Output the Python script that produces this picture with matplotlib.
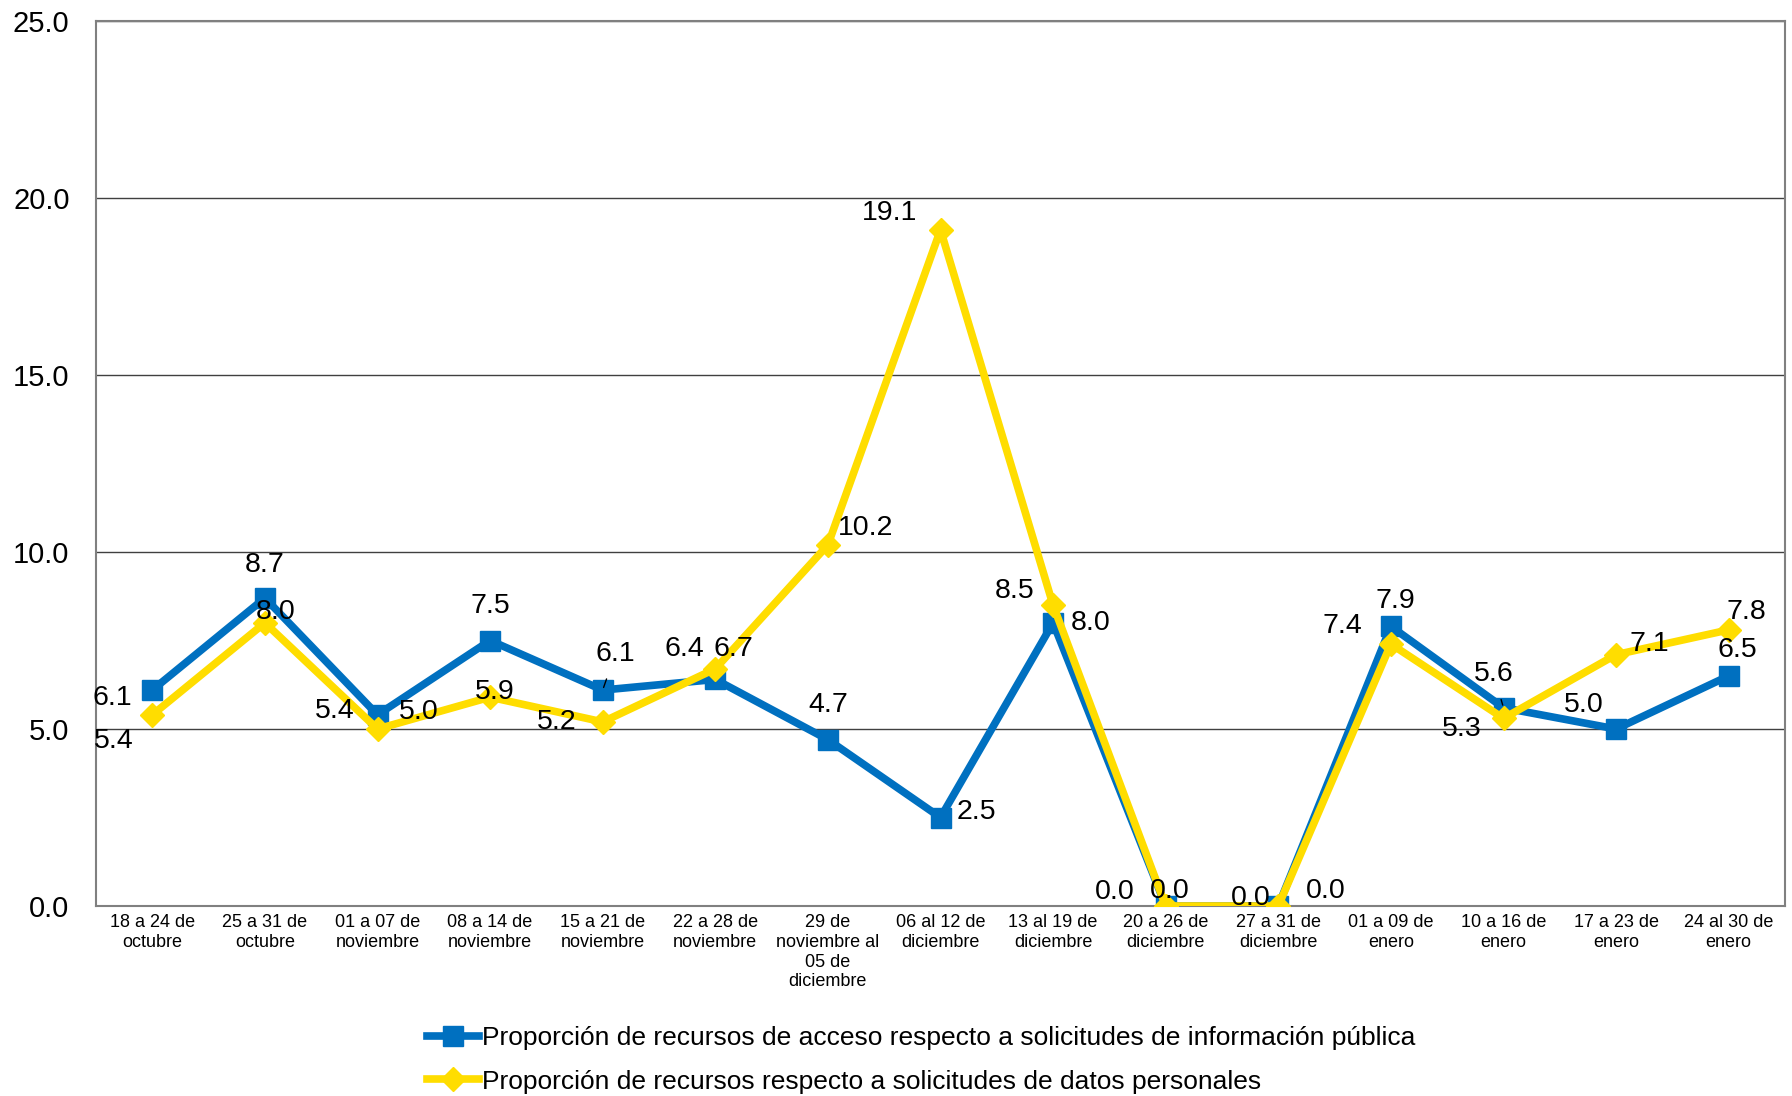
import matplotlib
matplotlib.use("Agg")
import matplotlib.pyplot as plt
import numpy as np

plt.rcParams["font.family"] = ["Liberation Sans", "DejaVu Sans"]

# ---------------------------------------------------------------------------
#  Data
# ---------------------------------------------------------------------------
semanas = [
    "18 a 24 de\noctubre", "25 a 31 de\noctubre", "01 a 07 de\nnoviembre",
    "08 a 14 de\nnoviembre", "15 a 21 de\nnoviembre", "22 a 28 de\nnoviembre",
    "29 de\nnoviembre al\n05 de\ndiciembre", "06 al 12 de\ndiciembre",
    "13 al 19 de\ndiciembre", "20 a 26 de\ndiciembre", "27 a 31 de\ndiciembre",
    "01 a 09 de\nenero", "10 a 16 de\nenero", "17 a 23 de\nenero",
    "24 al 30 de\nenero",
]
acceso = [6.1, 8.7, 5.4, 7.5, 6.1, 6.4, 4.7, 2.5, 8.0, 0.0, 0.0, 7.9, 5.6, 5.0, 6.5]
datos = [5.4, 8.0, 5.0, 5.9, 5.2, 6.7, 10.2, 19.1, 8.5, 0.0, 0.0, 7.4, 5.3, 7.1, 7.8]

label_acceso = "Proporción de recursos de acceso respecto a solicitudes de información pública"
label_datos = "Proporción de recursos respecto a solicitudes de datos personales"

# label offsets (points) for the data labels
off_acceso = [(-29, -6), (0, 24), (-31, 3), (0, 25), (9, 26), (-22, 22), (0, 25),
              (26, 4), (27, 0), (-37, 10), (-20, 6), (3, 18), (-7, 24), (-23, 17), (6, 19)]
off_datos = [(-28, -19), (8, 8), (30, 12), (3, 4), (-33, 0), (13, 14), (27, 12),
             (-37, 12), (-28, 10), (3, 11), (34, 11), (-35, 13), (-30, -8), (24, 8), (13, 13)]
leader_acceso = [4, 12]

BLUE = "#0070C0"
YELLOW = "#FFDD00"

# ---------------------------------------------------------------------------
#  Figure
# ---------------------------------------------------------------------------
fig = plt.figure(figsize=(17.92, 10.96), dpi=100)
ax = fig.add_axes([96 / 1792, 1 - 906 / 1096, (1785 - 96) / 1792, (906 - 21) / 1096])

x = np.arange(len(semanas))
ax.plot(x, acceso, color=BLUE, lw=5.5, marker="s", ms=14, label=label_acceso, zorder=3)
ax.plot(x, datos, color=YELLOW, lw=5.5, marker="D", ms=12, label=label_datos, zorder=4)

for i, v in enumerate(acceso):
    kw = {}
    if i in leader_acceso:
        kw["arrowprops"] = dict(arrowstyle="-", color="black", lw=1, shrinkA=7, shrinkB=2)
    ax.annotate(f"{v:.1f}", (x[i], v), xytext=off_acceso[i], textcoords="offset points",
                ha="center", va="center", fontsize=20.5, zorder=5, **kw)
for i, v in enumerate(datos):
    ax.annotate(f"{v:.1f}", (x[i], v), xytext=off_datos[i], textcoords="offset points",
                ha="center", va="center", fontsize=20.5, zorder=5)

ax.set_xlim(-0.5, len(semanas) - 0.5)
ax.set_ylim(0, 25)
ax.set_yticks(np.arange(0, 25.1, 5))
ax.set_yticklabels([f"{t:.1f}" for t in np.arange(0, 25.1, 5)])
ax.set_xticks(x)
ax.set_xticklabels(semanas, fontsize=13, linespacing=1.2)
ax.tick_params(axis="y", length=0, pad=19, labelsize=21)
ax.tick_params(axis="x", length=0, pad=6)

ax.yaxis.grid(True, color="#404040", lw=1)
ax.set_axisbelow(True)
for s in ax.spines.values():
    s.set_color("#808080")
    s.set_linewidth(1.5)

fig.legend(loc="center", bbox_to_anchor=(0.514, 0.033), frameon=False, fontsize=19,
           handlelength=2.0, handletextpad=0.1, labelspacing=0.75, borderaxespad=0)

fig.savefig("out.png", dpi=100)
